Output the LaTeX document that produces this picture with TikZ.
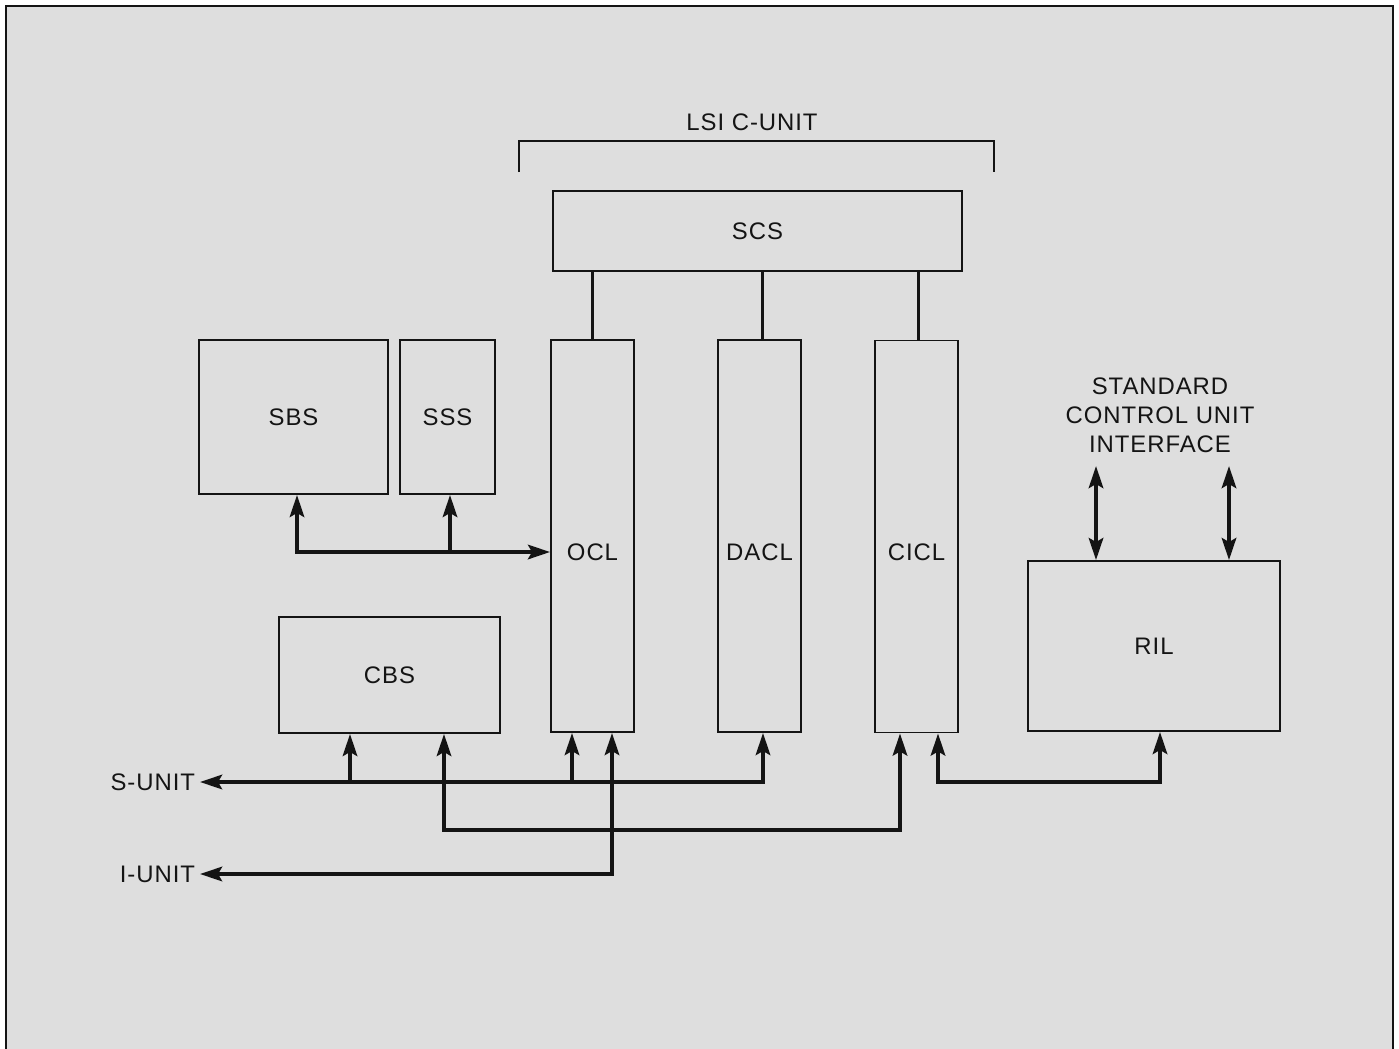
\documentclass[tikz,border=0pt]{standalone}
\usepackage{fontspec}
\setmainfont{Liberation Sans}[LetterSpace=4]
\usetikzlibrary{positioning, arrows.meta, calc}
\definecolor{paper}{gray}{0.87}
\definecolor{ink}{gray}{0.08}
\newcommand{\lblfont}{\fontsize{17}{20.6}\selectfont}
\tikzset{
  block/.style  = {draw=ink, line width=1.3pt, inner sep=0pt, align=center},
  column/.style = {block, minimum width=2.075cm, minimum height=9.8cm},
  link/.style   = {draw=ink, line width=2.8pt},
  thin/.style   = {draw=ink, line width=1.3pt},
  >={Stealth[length=5.5mm, width=3.6mm, inset=1mm]}
}

\begin{document}
\begin{tikzpicture}[x=0.025cm, y=-0.025cm, font=\lblfont, text=ink]
  \useasboundingbox (0,0) rectangle (1399,1048);
  \fill[white] (0,0) rectangle (1399,1048);
  \draw[thin, fill=paper] (6,6) rectangle (1393,1070);

  % LSI C-unit bracket
  \node (lsi) at (752,122) {LSI C-UNIT};
  \coordinate (brl) at (519,172);
  \coordinate (brr) at (994,172);
  \draw[thin] (brl) -- (brl |- 0,141) -- (brr |- 0,141) -- (brr);

  % blocks
  \node[block, minimum width=10.225cm, minimum height=2cm] (scs) at (757.5,231) {SCS};
  \node[column, label={[yshift=-0.4cm]center:OCL}]  (ocl)  at (592.5,536) {};
  \node[column, label={[yshift=-0.4cm]center:DACL}] (dacl) at (759.5,536) {};
  \node[column, label={[yshift=-0.4cm]center:CICL}] (cicl) at (916.5,536.5) {};
  \node[block, minimum width=4.725cm, minimum height=3.85cm] (sbs) at (293.5,417) {SBS};
  \node[block, minimum width=2.375cm, minimum height=3.85cm] (sss) at (447.5,417) {SSS};
  \node[block, minimum width=5.525cm, minimum height=2.9cm] (cbs) at (389.5,675) {CBS};
  \node[block, minimum width=6.3cm, minimum height=4.25cm] (ril) at (1154,646) {RIL};
  \node[align=center] (scui) at (1160,415) {STANDARD\\CONTROL UNIT\\INTERFACE};
  \node[anchor=east] (sunit) at (200,782) {S-UNIT};
  \node[anchor=east] (iunit) at (200,874) {I-UNIT};

  % SCS to the columns
  \draw[link] (scs.south -| ocl.north) -- (ocl.north);
  \draw[link] ($(scs.south -| dacl.north)+(3,0)$) -- ($(dacl.north)+(3,0)$);
  \draw[link] ($(scs.south -| cicl.north)+(2,0)$) -- ($(cicl.north)+(2,0)$);

  % SBS, SSS to OCL
  \coordinate (s1) at (297,552);
  \coordinate (s2) at (450,552);
  \draw[link, <->] (s1 |- sbs.south) -- (s1) -- (s1 -| ocl.west);
  \draw[link, ->] (s2) -- (s2 |- sss.south);

  % S-unit bus
  \coordinate (b1) at (350,782);
  \coordinate (b2) at (572,782);
  \coordinate (b3) at (763,782);
  \draw[link, <->] (sunit.east) -- (b3) -- (b3 |- dacl.south);
  \draw[link, ->] (b1) -- (b1 |- cbs.south);
  \draw[link, ->] (b2) -- (b2 |- ocl.south);

  % CBS to CICL
  \coordinate (c1) at (444,830);
  \coordinate (c2) at (900,830);
  \draw[link, <->] (c1 |- cbs.south) -- (c1) -- (c2) -- (c2 |- cicl.south);

  % I-unit
  \coordinate (i1) at (612,874);
  \draw[link, <->] (iunit.east) -- (i1) -- (i1 |- ocl.south);

  % CICL to RIL
  \coordinate (r1) at (938,782);
  \coordinate (r2) at (1160,782);
  \draw[link, <->] (r1 |- cicl.south) -- (r1) -- (r2) -- (r2 |- ril.south);

  % interface
  \coordinate (if1) at (1096,466);
  \coordinate (if2) at (1229,466);
  \draw[link, <->] (if1) -- (if1 |- ril.north);
  \draw[link, <->] (if2) -- (if2 |- ril.north);
\end{tikzpicture}
\end{document}
